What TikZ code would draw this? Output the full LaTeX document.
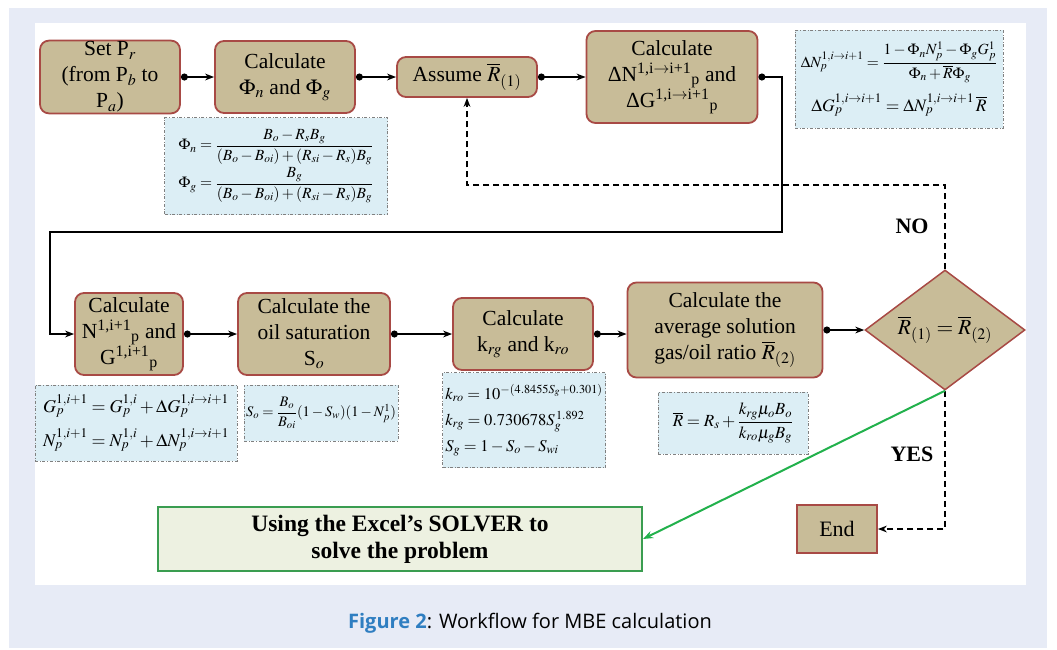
\documentclass[tikz,border=0pt]{standalone}
\usepackage{amsmath}
\usepackage{mathptmx}
\usepackage{fontspec}
\setmainfont{Liberation Serif}
\newfontfamily\capfont{Open Sans}
\usetikzlibrary{shapes.geometric,arrows.meta}
\definecolor{panel}{HTML}{E7EBF6}
\definecolor{tanfill}{HTML}{C8BC98}
\definecolor{boxred}{HTML}{A84A45}
\definecolor{formblue}{HTML}{DCEEF5}
\definecolor{solvergreen}{HTML}{3A9D50}
\definecolor{solverfill}{HTML}{EDF1E1}
\definecolor{linegreen}{HTML}{22B14C}
\definecolor{capblue}{HTML}{2F7EC1}
\tikzset{
  proc/.style={draw=boxred, line width=1.8pt, fill=tanfill, rounded corners=9pt,
    align=center, inner sep=1pt, font=\fontsize{21.5}{26}\selectfont},
  fbox/.style={draw=gray, dash dot, line width=0.6pt, fill=formblue, inner sep=2pt,
    align=center},
  flow/.style={line width=1.5pt, {Circle[length=7pt]}-{Stealth[length=9pt]}},
  dflow/.style={line width=1.8pt, dash pattern=on 6pt off 4pt, -{Stealth[length=9pt]}},
  lbl/.style={font=\bfseries\fontsize{22}{24}\selectfont},
}
\begin{document}
\begin{tikzpicture}[x=1pt,y=-1pt]
\useasboundingbox (0,0) rectangle (1057,649);
\fill[white] (0,0) rectangle (1057,649);
\fill[panel] (9,8) rectangle (1047,648);
\fill[white] (35,23) rectangle (1026,585);

% row 1
\node[proc, minimum width=140pt, minimum height=70pt] (set) at (110,77)
  {Set P$_r$\\(from P$_b$ to\\P$_a$)};
\node[proc, minimum width=140pt, minimum height=72pt] (phi) at (285,77)
  {Calculate\\$\Phi_n$ and $\Phi_g$};
\node[proc, minimum width=140pt, minimum height=40pt] (assume) at (467,77)
  {Assume $\overline{R}_{(1)}$};
\node[proc, minimum width=171pt, minimum height=92pt] (dn) at (672,77)
  {Calculate\\ΔN\textsuperscript{1,i$\rightarrow$i+1}\textsubscript{p} and\\ΔG\textsuperscript{1,i$\rightarrow$i+1}\textsubscript{p}};

% row 2
\node[proc, minimum width=108pt, minimum height=82pt] (calcn) at (129,334)
  {Calculate\\N\textsuperscript{1,i+1}\textsubscript{p} and\\G\textsuperscript{1,i+1}\textsubscript{p}};
\node[proc, minimum width=152pt, minimum height=82pt] (oil) at (314,334)
  {Calculate the\\oil saturation\\S$_o$};
\node[proc, minimum width=140pt, minimum height=72pt] (kr) at (523,334)
  {Calculate\\k$_{rg}$ and k$_{ro}$};
\node[proc, minimum width=195pt, minimum height=95pt] (avg) at (725,330)
  {Calculate the\\average solution\\gas/oil ratio $\overline{R}_{(2)}$};
\node[draw=boxred, line width=1.5pt, fill=tanfill, diamond, shape aspect=1.333,
  minimum width=160pt, minimum height=120pt, inner sep=0pt,
  font=\fontsize{21.5}{24}\selectfont] (dia) at (945,330)
  {$\overline{R}_{(1)}=\overline{R}_{(2)}$};

% end and solver
\node[draw=boxred, line width=1.8pt, fill=tanfill, minimum width=80pt, minimum height=48pt,
  font=\fontsize{22}{24}\selectfont] (end) at (837,529) {End};
\node[draw=solvergreen, line width=2pt, fill=solverfill, minimum width=484pt, minimum height=64pt,
  align=center, font=\bfseries\fontsize{23.5}{27}\selectfont] (solver) at (400,539)
  {Using the Excel's SOLVER to\\solve the problem};

% formula boxes
\node[fbox, minimum width=223pt, minimum height=97pt, font=\fontsize{15.5}{17}\selectfont] (fphi) at (276,166)
  {$\Phi_n=\dfrac{B_o-R_sB_g}{(B_o-B_{oi})+(R_{si}-R_s)B_g}$\\[1pt]
   $\Phi_g=\dfrac{B_g}{(B_o-B_{oi})+(R_{si}-R_s)B_g}$};
\node[fbox, minimum width=208pt, minimum height=98pt, font=\fontsize{15.5}{18}\selectfont] (fdn) at (899,79)
  {$\Delta N_p^{1,i\rightarrow i+1}=\dfrac{1-\Phi_nN_p^1-\Phi_gG_p^1}{\Phi_n+\overline{R}\Phi_g}$\\[10pt]
   {\fontsize{17.5}{20}\selectfont$\Delta G_p^{1,i\rightarrow i+1}=\Delta N_p^{1,i\rightarrow i+1}\,\overline{R}$}};
\node[fbox, minimum width=202pt, minimum height=76pt, font=\fontsize{18}{20}\selectfont] (fg) at (136,423)
  {$G_p^{1,i+1}=G_p^{1,i}+\Delta G_p^{1,i\rightarrow i+1}$\\[10pt]
   $N_p^{1,i+1}=N_p^{1,i}+\Delta N_p^{1,i\rightarrow i+1}$};
\node[fbox, minimum width=152pt, minimum height=56pt, font=\fontsize{14.5}{16}\selectfont] (fso) at (321,413)
  {$S_o=\dfrac{B_o}{B_{oi}}(1-S_w)(1-N_p^1)$};
\node[fbox, minimum width=163pt, minimum height=95pt, font=\fontsize{16.5}{19}\selectfont, align=left] (fk) at (524,420)
  {$k_{ro}=10^{-(4.8455S_g+0.301)}$\\[7pt]
   $k_{rg}=0.730678S_g^{\,1.892}$\\[7pt]
   $S_g=1-S_o-S_{wi}$};
\node[fbox, minimum width=150pt, minimum height=62pt, font=\fontsize{17}{19}\selectfont] (fr) at (733,423)
  {$\overline{R}=R_s+\dfrac{k_{rg}\mu_oB_o}{k_{ro}\mu_gB_g}$};

% connectors
\draw[flow] (set.east) -- (phi.west);
\draw[flow] (phi.east) -- (assume.west);
\draw[flow] (assume.east) -- (dn.west);
\coordinate (t1) at (782,232);
\coordinate (t2) at (50,232);
\draw[flow] (dn.east) -| (t1) -- (t2) |- (calcn.west);
\draw[flow] (calcn.east) -- (oil.west);
\draw[flow] (oil.east) -- (kr.west);
\draw[flow] (kr.east) -- (avg.west |- kr.east);
\draw[flow] (avg.east) -- (dia.west);
\coordinate (nocorner) at (945,185);
\draw[dflow] (dia.north) -- (nocorner) -| (assume.south);
\draw[dflow] (dia.south) |- (end.east);
\draw[linegreen, line width=2pt, -{Stealth[length=10pt]}] (dia.south) -- (solver.east);

\node[lbl] (no) at (912,226) {NO};
\node[lbl] (yes) at (912,454) {YES};

\node[font=\capfont\fontsize{20}{24}\selectfont] (cap) at (530,623)
  {{\color{capblue}\bfseries Figure 2}: Workflow for MBE calculation};
\end{tikzpicture}
\end{document}
